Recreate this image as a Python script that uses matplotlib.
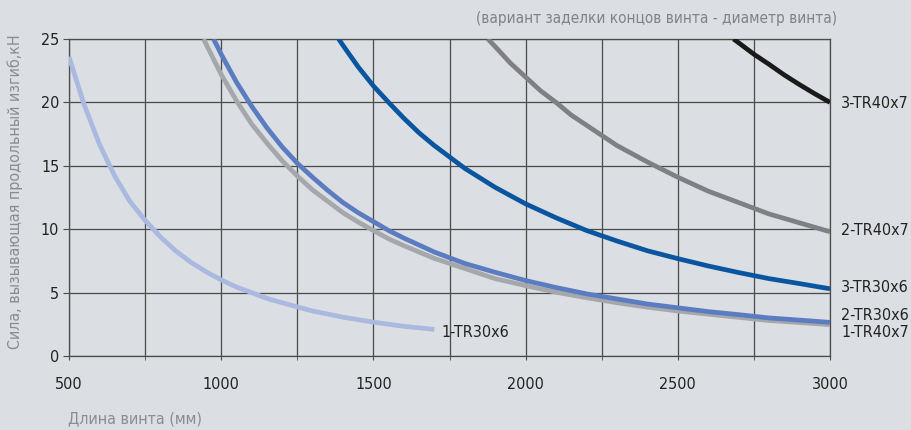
import matplotlib.pyplot as plt

plt.rcParams['font.family'] = ['DejaVu Sans']
plt.rcParams['font.stretch'] = 'condensed'

# длина винта, мм / сила, кН
len_1_tr30 = [500, 550, 600, 650, 700, 750, 800, 850, 900, 950, 1000, 1050, 1100, 1150, 1200, 1300, 1400, 1500, 1600, 1700]
f_1_tr30 = [23.6, 19.8, 16.7, 14.2, 12.2, 10.7, 9.4, 8.3, 7.4, 6.65, 6.0, 5.44, 5.0, 4.54, 4.2, 3.55, 3.06, 2.67, 2.34, 2.1]

len_1_tr40 = [942, 1000, 1050, 1100, 1150, 1200, 1250, 1300, 1350, 1400, 1450, 1500, 1550, 1600, 1700, 1800,
              1900, 2000, 2100, 2200, 2300, 2400, 2500, 2600, 2700, 2800, 2900, 3000]
f_1_tr40 = [25.0, 22.2, 20.14, 18.3, 16.8, 15.4, 14.2, 13.1, 12.2, 11.3, 10.56, 9.9, 9.24, 8.7, 7.7, 6.9,
            6.1, 5.55, 5.03, 4.6, 4.2, 3.85, 3.55, 3.3, 3.05, 2.8, 2.64, 2.47]

len_2_tr30 = [975, 1000, 1050, 1100, 1150, 1200, 1250, 1300, 1350, 1400, 1450, 1500, 1550, 1600, 1700, 1800,
              1900, 2000, 2100, 2200, 2300, 2400, 2500, 2600, 2700, 2800, 2900, 3000]
f_2_tr30 = [25.0, 23.8, 21.6, 19.7, 18.0, 16.5, 15.2, 14.1, 13.06, 12.1, 11.3, 10.6, 9.9, 9.3, 8.2, 7.3,
            6.6, 5.95, 5.4, 4.9, 4.5, 4.1, 3.8, 3.5, 3.26, 3.0, 2.83, 2.65]

len_3_tr30 = [1386, 1400, 1450, 1500, 1550, 1600, 1650, 1700, 1750, 1800, 1900, 2000, 2100, 2200, 2300,
              2400, 2500, 2600, 2700, 2800, 2900, 3000]
f_3_tr30 = [25.0, 24.5, 22.8, 21.3, 20.0, 18.75, 17.6, 16.6, 15.7, 14.8, 13.3, 12.0, 10.9, 9.9, 9.07,
            8.3, 7.68, 7.1, 6.58, 6.1, 5.71, 5.3]

len_2_tr40 = [1876, 1900, 1950, 2000, 2050, 2100, 2150, 2200, 2300, 2400, 2500, 2600, 2700, 2800, 2900, 3000]
f_2_tr40 = [25.0, 24.4, 23.1, 22.0, 20.9, 20.0, 19.0, 18.2, 16.6, 15.3, 14.1, 13.0, 12.1, 11.2, 10.5, 9.8]

len_3_tr40 = [2683, 2700, 2750, 2800, 2850, 2900, 2950, 3000]
f_3_tr40 = [25.0, 24.7, 23.8, 23.0, 22.16, 21.4, 20.68, 20.0]

bg = '#dbdee2'
fig = plt.figure(figsize=(9.11, 4.30), dpi=100, facecolor=bg)
ax = fig.add_axes([69 / 911, 74 / 430, 761 / 911, 317 / 430])
ax.set_facecolor(bg)

lw = 3.4
ax.plot(len_1_tr30, f_1_tr30, color='#a9b9df', lw=lw, solid_capstyle='butt', solid_joinstyle='round', zorder=3)
ax.plot(len_1_tr40, f_1_tr40, color='#a6a7aa', lw=lw, solid_capstyle='butt', solid_joinstyle='round', zorder=3)
ax.plot(len_2_tr30, f_2_tr30, color='#5b7cc0', lw=lw, solid_capstyle='butt', solid_joinstyle='round', zorder=4)
ax.plot(len_3_tr30, f_3_tr30, color='#0a55a0', lw=lw, solid_capstyle='butt', solid_joinstyle='round', zorder=3)
ax.plot(len_2_tr40, f_2_tr40, color='#7f8083', lw=lw, solid_capstyle='butt', solid_joinstyle='round', zorder=3)
ax.plot(len_3_tr40, f_3_tr40, color='#1a1a1a', lw=lw, solid_capstyle='butt', solid_joinstyle='round', zorder=3)

ax.set_xlim(500, 3000)
ax.set_ylim(0, 25)
ax.set_xticks(range(500, 3001, 500))
ax.set_xticks(range(750, 3000, 500), minor=True)
ax.set_yticks(range(0, 26, 5))
ax.grid(True, which='both', color='#4a4a4a', lw=0.9)
for s in ax.spines.values():
    s.set_color('#4a4a4a')
    s.set_linewidth(0.9)
ax.tick_params(axis='both', which='both', color='#4a4a4a', labelsize=11.5, labelcolor='#222222')
ax.tick_params(axis='x', which='both', length=3, pad=12)
ax.tick_params(axis='y', length=4, pad=3)

lab = dict(textcoords='offset points', fontsize=11.5, color='#222222', va='center')
ax.annotate('3-TR40x7', (3000, 19.95), xytext=(8, 0), **lab)
ax.annotate('2-TR40x7', (3000, 9.86), xytext=(8, 0), **lab)
ax.annotate('3-TR30x6', (3000, 5.44), xytext=(8, 0), **lab)
ax.annotate('2-TR30x6', (3000, 3.2), xytext=(8, 0), **lab)
ax.annotate('1-TR40x7', (3000, 1.85), xytext=(8, 0), **lab)
ax.annotate('1-TR30x6', (1700, 1.85), xytext=(5, 0), **lab)

fig.text(837 / 911, 1 - 19 / 430, '(вариант заделки концов винта - диаметр винта)',
         ha='right', va='center', fontsize=11, color='#808285')
fig.text(15 / 911, 1 - 192 / 430, 'Сила, вызывающая продольный изгиб,кН', rotation=90,
         ha='center', va='center', fontsize=11.5, color='#8a8c8f')
fig.text(68 / 911, 1 - 419 / 430, 'Длина винта (мм)', ha='left', va='center',
         fontsize=11.5, color='#8a8c8f')

fig.savefig('out.png', dpi=100, facecolor=bg)
